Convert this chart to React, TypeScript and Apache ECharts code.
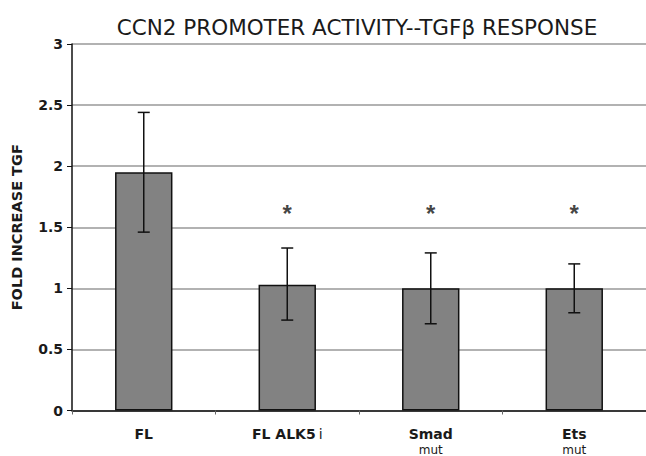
import React, { useEffect, useRef } from "react";
import * as echarts from "echarts";

const categories = ["FL", "FL ALK5 i", "Smad\nmut", "Ets\nmut"];
const values = [1.95, 1.03, 1.0, 1.0];
const errLow = [1.46, 0.74, 0.71, 0.8];
const errHigh = [2.44, 1.33, 1.29, 1.2];
const starValues = [null, 1.65, 1.65, 1.65];
const yTicks = [0, 0.5, 1, 1.5, 2, 2.5, 3];

export default function App() {
  const ref = useRef<HTMLDivElement>(null);
  useEffect(() => {
    if (!ref.current) return;
    const chart = echarts.init(ref.current, undefined, { renderer: "svg" });
    const font = "DejaVu Sans, Verdana, sans-serif";
    chart.setOption({
      animation: false,
      backgroundColor: "#ffffff",
      title: {
        text: "CCN2 PROMOTER ACTIVITY--TGFβ RESPONSE",
        left: 352,
        textAlign: "center",
        top: 11,
        textStyle: { fontFamily: font, fontSize: 21.5, fontWeight: "normal", color: "#1a1a1a" },
      },
      grid: { left: 72, top: 44, width: 578, bottom: 45, containLabel: false },
      xAxis: {
        type: "category",
        data: categories,
        axisLine: { lineStyle: { color: "#111", width: 1.5 } },
        axisTick: { show: true, length: 4, lineStyle: { color: "#666" } },
        axisLabel: {
          margin: 14,
          interval: 0,
          formatter: (v: string) => {
            const parts = v.split("\n");
            if (parts.length > 1) return "{a|" + parts[0] + "}\n{b|" + parts[1] + "}";
            if (v === "FL ALK5 i") return "{a|FL ALK5}{c|i}";
            return "{a|" + v + "}";
          },
          rich: {
            a: { fontFamily: font, fontSize: 14, fontWeight: "bold", color: "#1a1a1a", lineHeight: 18 },
            b: { fontFamily: font, fontSize: 12, fontWeight: "normal", color: "#1a1a1a", lineHeight: 15 },
            c: { fontFamily: font, fontSize: 14, fontWeight: "normal", color: "#1a1a1a", lineHeight: 18, padding: [0, 0, 0, 3] },
          },
        },
        splitLine: { show: false },
      },
      yAxis: {
        type: "value",
        min: 0,
        max: 3,
        interval: 0.5,
        name: "FOLD INCREASE TGF",
        nameLocation: "middle",
        nameGap: 48,
        nameTextStyle: { fontFamily: font, fontSize: 14.5, fontWeight: "bold", color: "#1a1a1a" },
        axisLine: { show: true, lineStyle: { color: "#111", width: 1.5 } },
        axisTick: { show: true, length: 5, lineStyle: { color: "#111" } },
        axisLabel: {
          margin: 9,
          fontFamily: font,
          fontSize: 14,
          fontWeight: "bold",
          color: "#1a1a1a",
          formatter: (v: number) => (yTicks.includes(v) ? String(v) : ""),
        },
        splitLine: { show: true, lineStyle: { color: "#999", width: 1.5 } },
      },
      series: [
        {
          type: "bar",
          data: values,
          barWidth: "40%",
          itemStyle: { color: "#828282", borderColor: "#111", borderWidth: 1.5 },
        },
        {
          type: "custom",
          data: categories.map((_, i) => [i, errLow[i], errHigh[i]]),
          z: 5,
          renderItem: (params: any, api: any) => {
            const x = api.value(0);
            const lo = api.coord([x, api.value(1)]);
            const hi = api.coord([x, api.value(2)]);
            const hw = 6;
            const style = { stroke: "#111", lineWidth: 1.5 };
            return {
              type: "group",
              children: [
                { type: "line", shape: { x1: lo[0], y1: lo[1], x2: hi[0], y2: hi[1] }, style },
                { type: "line", shape: { x1: lo[0] - hw, y1: lo[1], x2: lo[0] + hw, y2: lo[1] }, style },
                { type: "line", shape: { x1: hi[0] - hw, y1: hi[1], x2: hi[0] + hw, y2: hi[1] }, style },
              ],
            };
          },
        },
        {
          type: "scatter",
          data: starValues.map((v, i) => (v == null ? null : [i, v])),
          symbolSize: 0,
          label: {
            show: true,
            position: "inside",
            formatter: "*",
            fontFamily: "Liberation Sans, Arial, sans-serif",
            fontSize: 24,
            fontWeight: "bold",
            color: "#111",
            offset: [0, 5],
          },
        },
      ],
    });
    return () => chart.dispose();
  }, []);
  return <div ref={ref} style={{ width: 646, height: 456, position: "absolute", left: 0, top: 0 }} />;
}
